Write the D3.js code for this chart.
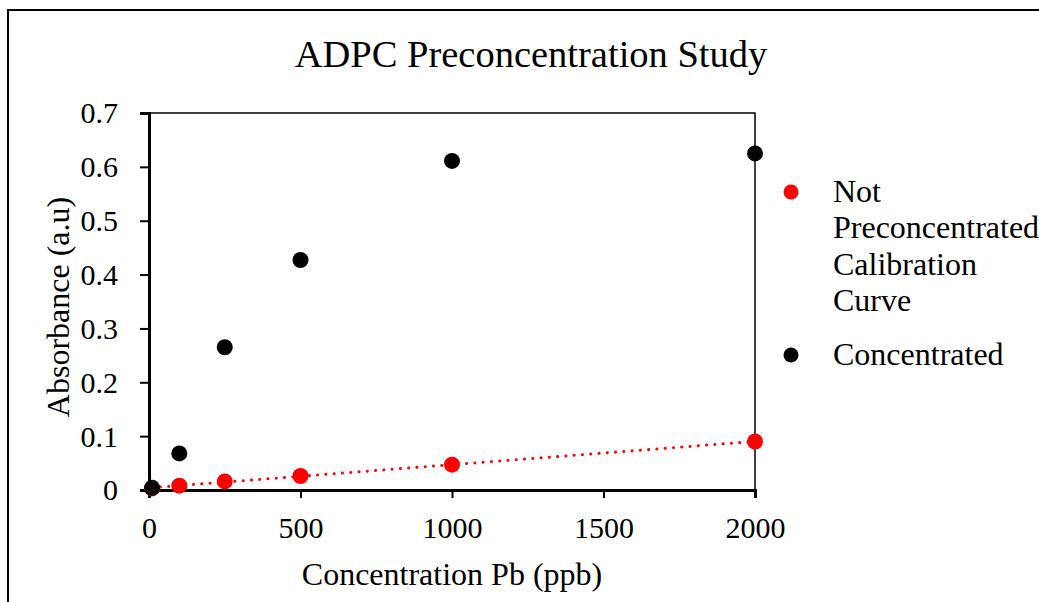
<!DOCTYPE html>
<html>
<head>
<meta charset="utf-8">
<script src="https://cdn.jsdelivr.net/npm/d3@7"></script>
<style>
  body { margin: 0; background: #fff; }
  text { font-family: "Liberation Serif", "Times New Roman", serif; fill: #000; }
</style>
</head>
<body>
<script>
// data
var concPb = [10, 100, 250, 500, 1000, 2000];
var notPreconc = [0.003, 0.008, 0.016, 0.026, 0.047, 0.090];
var concentrated = [0.004, 0.068, 0.265, 0.427, 0.611, 0.625];
var xTicks = [0, 500, 1000, 1500, 2000];
var yTicks = [0, 0.1, 0.2, 0.3, 0.4, 0.5, 0.6, 0.7];

var width = 1039, height = 602;
var svg = d3.select('body').append('svg')
    .attr('width', width)
    .attr('height', height);

// outer chart frame (runs off the right and bottom)
svg.append('rect')
    .attr('x', 8).attr('y', 10)
    .attr('width', 1100).attr('height', 700)
    .attr('fill', 'none').attr('stroke', '#000').attr('stroke-width', 2);

var x = d3.scaleLinear().domain([0, 2000]).range([149, 755]);
var y = d3.scaleLinear().domain([0, 0.7]).range([490, 113]);

// plot area box
svg.append('rect')
    .attr('x', x(0)).attr('y', y(0.7))
    .attr('width', x(2000) - x(0)).attr('height', y(0) - y(0.7))
    .attr('fill', 'none').attr('stroke', '#000').attr('stroke-width', 1.5);

var xAxis = d3.axisBottom(x).tickValues(xTicks).tickSize(8).tickFormat(d3.format('d'));
var yAxis = d3.axisLeft(y).tickValues(yTicks).tickSize(9).tickFormat(function(d){ return d === 0 ? '0' : d3.format('.1f')(d); });

var gx = svg.append('g').attr('transform', 'translate(0,' + y(0) + ')').call(xAxis);
var gy = svg.append('g').attr('transform', 'translate(' + x(0) + ',0)').call(yAxis);
[gx, gy].forEach(function(g){
  g.select('.domain').attr('stroke', '#000').attr('stroke-width', 3);
  g.selectAll('.tick line').attr('stroke', '#000').attr('stroke-width', 2);
  g.selectAll('.tick text').style('font-family', '"Liberation Serif", serif').style('font-size', '30px').attr('fill', '#000');
});
gx.selectAll('.tick text').attr('y', 48).attr('dy', 0);
gy.selectAll('.tick text').attr('x', -31).attr('dy', '0.33em');

// linear trendline for the not-preconcentrated series
var n = concPb.length;
var mx = d3.mean(concPb), my = d3.mean(notPreconc);
var sxy = d3.sum(concPb, function(v, i){ return (v - mx) * (notPreconc[i] - my); });
var sxx = d3.sum(concPb, function(v){ return (v - mx) * (v - mx); });
var slope = sxy / sxx, icpt = my - slope * mx;
var trendX = [concPb[0], concPb[n - 1]];
var line = d3.line().x(function(d){ return x(d); }).y(function(d){ return y(icpt + slope * d); });
svg.append('path')
    .attr('d', line(trendX))
    .attr('fill', 'none').attr('stroke', '#ff0000').attr('stroke-width', 3)
    .attr('stroke-linecap', 'round').attr('stroke-dasharray', '0.1 8.2');

// points
svg.append('g').selectAll('circle').data(concPb).enter().append('circle')
    .attr('cx', function(d){ return x(d); })
    .attr('cy', function(d, i){ return y(notPreconc[i]); })
    .attr('r', 8).attr('fill', '#ff0000');
svg.append('g').selectAll('circle').data(concPb).enter().append('circle')
    .attr('cx', function(d){ return x(d); })
    .attr('cy', function(d, i){ return y(concentrated[i]); })
    .attr('r', 8).attr('fill', '#000');

// titles
svg.append('text').attr('x', 531).attr('y', 67).attr('text-anchor', 'middle')
    .style('font-size', '38.5px').text('ADPC Preconcentration Study');
svg.append('text').attr('x', 452).attr('y', 585).attr('text-anchor', 'middle')
    .style('font-size', '32px').text('Concentration Pb (ppb)');
svg.append('text').attr('transform', 'translate(69,307) rotate(-90)').attr('text-anchor', 'middle')
    .style('font-size', '32px').text('Absorbance (a.u)');

// legend
var legend = svg.append('g');
legend.append('circle').attr('cx', 791).attr('cy', 192).attr('r', 7.5).attr('fill', '#ff0000');
var lt = legend.append('text').attr('x', 833).attr('y', 202).style('font-size', '32px');
['Not', 'Preconcentrated', 'Calibration', 'Curve'].forEach(function(s, i){
  lt.append('tspan').attr('x', 833).attr('dy', i === 0 ? 0 : 36.4).text(s);
});
legend.append('circle').attr('cx', 791).attr('cy', 355).attr('r', 7.5).attr('fill', '#000');
legend.append('text').attr('x', 833).attr('y', 365).style('font-size', '32px').text('Concentrated');
</script>
</body>
</html>
